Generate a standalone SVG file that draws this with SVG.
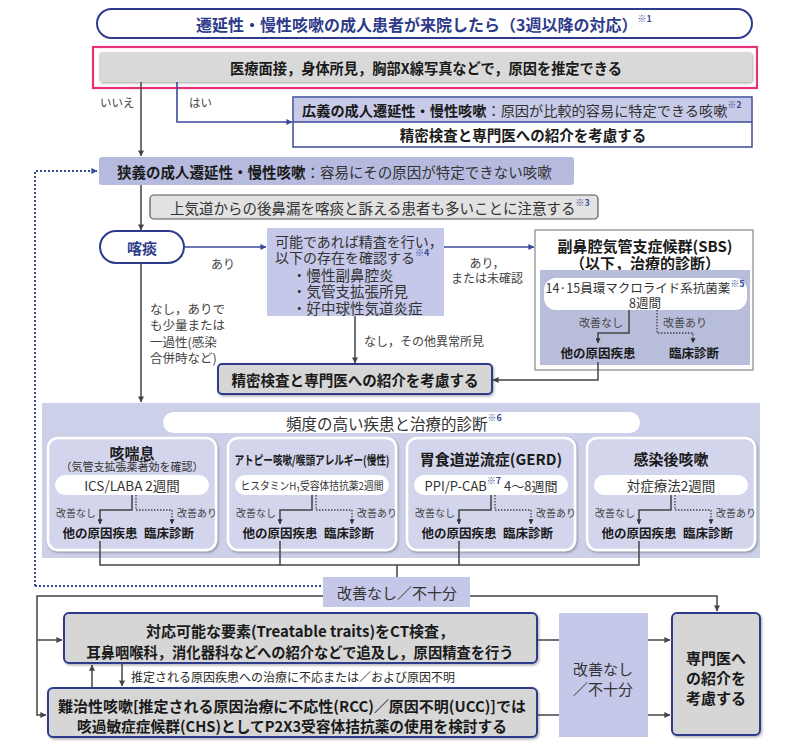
<svg xmlns="http://www.w3.org/2000/svg" width="800" height="751" viewBox="0 0 800 751">
<defs>
<style>
text{font-family:"Noto Sans CJK JP","Noto Sans",sans-serif;dominant-baseline:central;fill:#2a2a2a}
.b{font-weight:bold;fill:#1a1a1a}
.n{fill:#333}
.s{fill:#444}
.navy{fill:#2e3a8a;font-weight:bold}
.sup{font-size:9px;fill:#3a4a9a;font-weight:bold}
.ln{stroke:#444;stroke-width:1.5;fill:none}
.bl{stroke:#3a4a9a;stroke-width:1.6;fill:none}
.dot{stroke:#3a4a9a;stroke-width:2;stroke-dasharray:2 2;fill:none}
.dg{stroke:#444;stroke-width:1.3;stroke-dasharray:1.5 1.5;fill:none}
.gray{fill:#d6d6d6;stroke:#2e3a8a;stroke-width:2}
.sub{fill:#d3d5ed;stroke:#ffffff;stroke-width:2.5}
.pill{fill:#ffffff}
.lav{fill:#c5c8e8}
</style>
<marker id="ad" viewBox="0 0 8 8" refX="7.5" refY="4" markerWidth="6" markerHeight="6" orient="auto" markerUnits="userSpaceOnUse"><path d="M0,0 L8,4 L0,8 z" fill="#444"/></marker>
<marker id="ab" viewBox="0 0 8 8" refX="7.5" refY="4" markerWidth="6" markerHeight="6" orient="auto" markerUnits="userSpaceOnUse"><path d="M0,0 L8,4 L0,8 z" fill="#3a4a9a"/></marker>
<marker id="as" viewBox="0 0 8 8" refX="7.5" refY="4" markerWidth="5" markerHeight="5" orient="auto" markerUnits="userSpaceOnUse"><path d="M0,0 L8,4 L0,8 z" fill="#333"/></marker>
<filter id="sh" x="-5%" y="-10%" width="110%" height="130%"><feDropShadow dx="1.2" dy="1.5" stdDeviation="1" flood-color="#000" flood-opacity="0.3"/></filter>
</defs>
<rect width="800" height="751" fill="#ffffff"/>

<g id="title">
<rect x="97" y="9" width="655" height="29" rx="14.5" fill="#fff" stroke="#2e3a8a" stroke-width="2"/>
<text x="424" y="24" text-anchor="middle" class="navy" font-size="16">遷延性・慢性咳嗽の成人患者が来院したら（3週以降の対応）<tspan class="sup" dy="-6">※1</tspan></text>
</g>

<g id="q1">
<rect x="93" y="47" width="664" height="41" fill="none" stroke="#e5317a" stroke-width="2.2"/>
<rect x="99" y="52" width="653" height="30" rx="3" fill="#d9d9d9" filter="url(#sh)"/>
<text x="426" y="67.5" text-anchor="middle" class="b" font-size="14.5" textLength="392" lengthAdjust="spacingAndGlyphs">医療面接，身体所見，胸部X線写真などで，原因を推定できる</text>
</g>

<g id="broad">
<rect x="293" y="97" width="459" height="50" fill="#fff" stroke="#3a4a9a" stroke-width="1.5"/>
<rect x="294" y="98" width="457" height="24" fill="#c8cbe8"/>
<line x1="293" y1="122" x2="752" y2="122" stroke="#3a4a9a" stroke-width="1.5"/>
<text x="302" y="109.5" font-size="14.2"><tspan class="b">広義の成人遷延性・慢性咳嗽</tspan><tspan class="n">：原因が比較的容易に特定できる咳嗽</tspan><tspan class="sup" dy="-6">※2</tspan></text>
<text x="523" y="134.5" text-anchor="middle" class="b" font-size="14.5">精密検査と専門医への紹介を考慮する</text>
</g>

<g id="narrow">
<rect x="99" y="157" width="475" height="28" rx="3" fill="#b6badf"/>
<text x="117" y="171" font-size="14.5"><tspan class="b">狭義の成人遷延性・慢性咳嗽</tspan><tspan class="n">：容易にその原因が特定できない咳嗽</tspan></text>
</g>

<g id="note">
<rect x="150" y="195" width="448" height="24" rx="4" fill="#e2e2e2" stroke="#555" stroke-width="1.2"/>
<text x="170" y="207.5" class="n" font-size="14.5">上気道からの後鼻漏を喀痰と訴える患者も多いことに注意する<tspan class="sup" dy="-6">※3</tspan></text>
</g>

<g id="sputum">
<rect x="100" y="231" width="84" height="32" rx="16" fill="#fff" stroke="#2e3a8a" stroke-width="2"/>
<text x="142" y="247" text-anchor="middle" class="navy" font-size="15">喀痰</text>
</g>

<g id="check">
<rect x="267" y="228" width="177" height="88" fill="#c5c8e8"/>
<text x="275" y="240.5" class="n" font-size="14">可能であれば精査を行い，</text>
<text x="275" y="256.5" class="n" font-size="14">以下の存在を確認する<tspan class="sup" dy="-5">※4</tspan></text>
<text x="292" y="274" class="n" font-size="14.5">・慢性副鼻腔炎</text>
<text x="292" y="290.5" class="n" font-size="14.5">・気管支拡張所見</text>
<text x="292" y="307" class="n" font-size="14.5">・好中球性気道炎症</text>
</g>

<g id="sbs">
<rect x="535" y="230" width="218" height="140" fill="#fff" stroke="#888" stroke-width="1.2"/>
<text x="645" y="245" text-anchor="middle" class="b" font-size="15">副鼻腔気管支症候群(SBS)</text>
<text x="645" y="262" text-anchor="middle" class="b" font-size="15">（以下，治療的診断）</text>
<rect x="540" y="270" width="210" height="95" fill="#b9bddc"/>
<rect x="544" y="278" width="203" height="32" rx="12" class="pill"/>
<text x="645" y="287.5" text-anchor="middle" class="n" font-size="12.5">14·15員環マクロライド系抗菌薬<tspan class="sup" dy="-5">※5</tspan></text>
<text x="645" y="302.5" text-anchor="middle" class="n" font-size="12.5">8週間</text>
<text x="601" y="322" text-anchor="middle" class="s" font-size="11">改善なし</text>
<text x="685" y="322" text-anchor="middle" class="s" font-size="11">改善あり</text>
<text x="598" y="352.5" text-anchor="middle" class="b" font-size="12.5">他の原因疾患</text>
<text x="694" y="352.5" text-anchor="middle" class="b" font-size="12.5">臨床診断</text>
</g>

<g id="refer1">
<rect x="218" y="364" width="274" height="30" rx="4" class="gray" filter="url(#sh)"/>
<text x="355" y="379" text-anchor="middle" class="b" font-size="15" textLength="247" lengthAdjust="spacingAndGlyphs">精密検査と専門医への紹介を考慮する</text>
</g>

<g id="frequent">
<rect x="42" y="403" width="718" height="155" fill="#ccd0e8"/>
<rect x="163" y="412" width="477" height="21" rx="10.5" class="pill"/>
<text x="394" y="423" text-anchor="middle" class="n" font-size="15.5">頻度の高い疾患と治療的診断<tspan class="sup" dy="-6">※6</tspan></text>
</g>

<g id="cva">
<rect x="48" y="438" width="168" height="112" rx="10" class="sub" filter="url(#sh)"/>
<text x="132" y="452" text-anchor="middle" class="b" font-size="15">咳喘息</text>
<text x="132" y="466" text-anchor="middle" class="n" font-size="11">（気管支拡張薬著効を確認）</text>
<rect x="55" y="475" width="154" height="20" rx="10" class="pill"/>
<text x="132" y="485" text-anchor="middle" class="n" font-size="13.5">ICS/LABA 2週間</text>
<text x="56" y="512" class="s" font-size="10">改善なし</text>
<text x="177" y="512" class="s" font-size="10">改善あり</text>
<text x="100" y="532" text-anchor="middle" class="b" font-size="12.5">他の原因疾患</text>
<text x="169" y="532" text-anchor="middle" class="b" font-size="12.5">臨床診断</text>
</g>

<g id="atopic">
<rect x="228" y="438" width="168" height="112" rx="10" class="sub" filter="url(#sh)"/>
<text x="312" y="459" text-anchor="middle" class="b" font-size="12.5" textLength="155" lengthAdjust="spacingAndGlyphs">アトピー咳嗽/喉頭アレルギー(慢性)</text>
<rect x="235" y="475" width="154" height="20" rx="10" class="pill"/>
<text x="312" y="485" text-anchor="middle" class="n" font-size="11" textLength="143" lengthAdjust="spacingAndGlyphs">ヒスタミンH₁受容体拮抗薬2週間</text>
<text x="236" y="512" class="s" font-size="10">改善なし</text>
<text x="357" y="512" class="s" font-size="10">改善あり</text>
<text x="280" y="532" text-anchor="middle" class="b" font-size="12.5">他の原因疾患</text>
<text x="349" y="532" text-anchor="middle" class="b" font-size="12.5">臨床診断</text>
</g>

<g id="gerd">
<rect x="407" y="438" width="168" height="112" rx="10" class="sub" filter="url(#sh)"/>
<text x="491" y="458" text-anchor="middle" class="b" font-size="15">胃食道逆流症(GERD)</text>
<rect x="414" y="475" width="154" height="20" rx="10" class="pill"/>
<text x="491" y="485" text-anchor="middle" class="n" font-size="13">PPI/P-CAB<tspan class="sup" dy="-5">※7</tspan><tspan dy="5"> 4～8週間</tspan></text>
<text x="415" y="512" class="s" font-size="10">改善なし</text>
<text x="536" y="512" class="s" font-size="10">改善あり</text>
<text x="459" y="532" text-anchor="middle" class="b" font-size="12.5">他の原因疾患</text>
<text x="528" y="532" text-anchor="middle" class="b" font-size="12.5">臨床診断</text>
</g>

<g id="postinf">
<rect x="587" y="438" width="168" height="112" rx="10" class="sub" filter="url(#sh)"/>
<text x="671" y="458" text-anchor="middle" class="b" font-size="15">感染後咳嗽</text>
<rect x="594" y="475" width="154" height="20" rx="10" class="pill"/>
<text x="671" y="485" text-anchor="middle" class="n" font-size="13.5">対症療法2週間</text>
<text x="595" y="512" class="s" font-size="10">改善なし</text>
<text x="716" y="512" class="s" font-size="10">改善あり</text>
<text x="639" y="532" text-anchor="middle" class="b" font-size="12.5">他の原因疾患</text>
<text x="708" y="532" text-anchor="middle" class="b" font-size="12.5">臨床診断</text>
</g>

<g id="nogood1">
<rect x="323" y="577" width="147" height="30" class="lav"/>
<text x="397" y="592" text-anchor="middle" class="n" font-size="15">改善なし／不十分</text>
</g>

<g id="traits">
<rect x="64" y="613" width="473" height="50" rx="5" class="gray" filter="url(#sh)"/>
<text x="300" y="630" text-anchor="middle" class="b" font-size="15">対応可能な要素(Treatable traits)をCT検査，</text>
<text x="300" y="651" text-anchor="middle" class="b" font-size="15" textLength="427" lengthAdjust="spacingAndGlyphs">耳鼻咽喉科，消化器科などへの紹介などで追及し，原因精査を行う</text>
</g>

<g id="refractory">
<rect x="48" y="688" width="489" height="49" rx="5" class="gray" filter="url(#sh)"/>
<text x="292" y="705" text-anchor="middle" class="b" font-size="15" textLength="468" lengthAdjust="spacingAndGlyphs">難治性咳嗽[推定される原因治療に不応性(RCC)／原因不明(UCC)]では</text>
<text x="292" y="725" text-anchor="middle" class="b" font-size="15" textLength="430" lengthAdjust="spacingAndGlyphs">咳過敏症症候群(CHS)としてP2X3受容体拮抗薬の使用を検討する</text>
</g>

<g id="nogood2">
<rect x="559" y="613" width="89" height="124" class="lav"/>
<text x="603" y="668" text-anchor="middle" class="n" font-size="15">改善なし</text>
<text x="603" y="688" text-anchor="middle" class="n" font-size="15">／不十分</text>
</g>

<g id="specialist">
<rect x="672" y="613" width="88" height="122" rx="5" class="gray" filter="url(#sh)"/>
<text x="716" y="657" text-anchor="middle" class="b" font-size="15">専門医へ</text>
<text x="716" y="677" text-anchor="middle" class="b" font-size="15">の紹介を</text>
<text x="716" y="697" text-anchor="middle" class="b" font-size="15">考慮する</text>
</g>

<g id="connectors">
<path class="ln" d="M141,82 V156" marker-end="url(#ad)"/>
<text x="100" y="102" class="s" font-size="11.5">いいえ</text>
<path class="bl" d="M177,82 V122 H292" marker-end="url(#ab)"/>
<text x="189" y="102" class="s" font-size="11.5">はい</text>
<path class="dot" d="M35,586 V171 H97" marker-end="url(#ab)"/>
<path class="dot" d="M35,586 H323"/>
<path class="ln" d="M141,185 V230" marker-end="url(#ad)"/>
<path class="ln" d="M141,263 V402" marker-end="url(#ad)"/>
<path class="bl" d="M184,247 H266" marker-end="url(#ab)"/>
<text x="223" y="263" text-anchor="middle" class="s" font-size="12">あり</text>
<path class="bl" d="M444,247 H534" marker-end="url(#ab)"/>
<text x="487" y="262" text-anchor="middle" class="s" font-size="12">あり，</text>
<text x="487" y="277.5" text-anchor="middle" class="s" font-size="12">または未確認</text>
<text x="150" y="308" class="s" font-size="12.5">なし，ありで</text>
<text x="150" y="324.5" class="s" font-size="12.5">も少量または</text>
<text x="150" y="341" class="s" font-size="12.5">一過性(感染</text>
<text x="150" y="357" class="s" font-size="12.5">合併時など)</text>
<path class="ln" d="M355,316 V363" marker-end="url(#ad)"/>
<text x="364" y="340" class="s" font-size="12">なし，その他異常所見</text>
<path class="ln" d="M629,310 V333 H598 V343" marker-end="url(#as)"/>
<path class="dg" d="M657,310 V333 H693 V343" marker-end="url(#as)"/>
<path class="ln" d="M598,362 V380 H493" marker-end="url(#ad)"/>
<path class="ln" d="M132,495 V510 H100 V524" marker-end="url(#as)"/>
<path class="dg" d="M136,495 V510 H172 V524" marker-end="url(#as)"/>
<path class="ln" d="M312,495 V510 H280 V524" marker-end="url(#as)"/>
<path class="dg" d="M316,495 V510 H352 V524" marker-end="url(#as)"/>
<path class="ln" d="M491,495 V510 H459 V524" marker-end="url(#as)"/>
<path class="dg" d="M495,495 V510 H531 V524" marker-end="url(#as)"/>
<path class="ln" d="M671,495 V510 H639 V524" marker-end="url(#as)"/>
<path class="dg" d="M675,495 V510 H711 V524" marker-end="url(#as)"/>
<path class="ln" d="M100,541 V565 H639 V541 M280,541 V565 M459,541 V565 M397,565 V577"/>
<path class="ln" d="M470,596 H717 V611" marker-end="url(#ad)"/>
<path class="ln" d="M323,596 H37 V715 H46" marker-end="url(#ad)"/>
<path class="ln" d="M37,640 H62" marker-end="url(#ad)"/>
<path class="ln" d="M92,688 V665" marker-end="url(#ad)"/>
<path class="ln" d="M122,663 V686" marker-end="url(#ad)"/>
<text x="131" y="676" fill="#555" font-size="12">推定される原因疾患への治療に不応または／および原因不明</text>
<path class="ln" d="M537,640 H559 M537,715 H559"/>
<path class="ln" d="M648,640 H670" marker-end="url(#ad)"/>
<path class="ln" d="M648,715 H670" marker-end="url(#ad)"/>
</g>
</svg>
